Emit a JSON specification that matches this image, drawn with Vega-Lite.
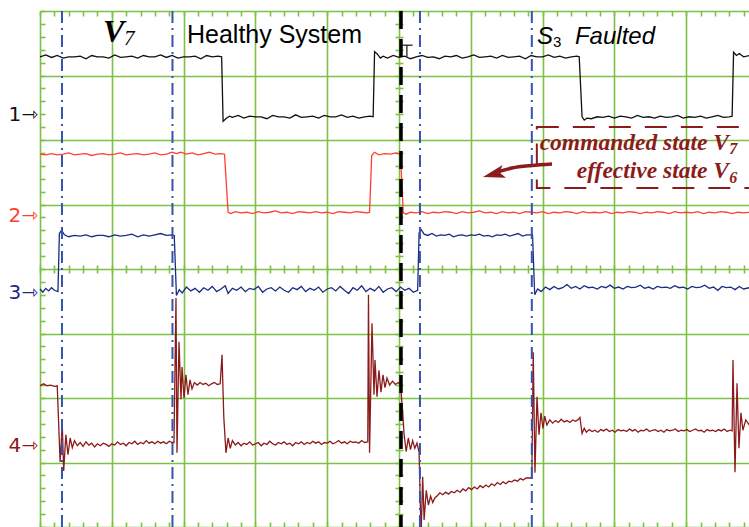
{
"$schema":"https://vega.github.io/schema/vega-lite/v6.json",
"width":709,"height":516,
"autosize":{"type":"none"},
"padding":{"left":40,"top":11,"right":0,"bottom":0},
"background":"white",
"config":{"view":{"stroke":null}},
"resolve":{"axis":{"x":"independent","y":"independent"}},
"datasets":{
"tr":[
{"s":"1","x":0,"y":3.29},{"s":"1","x":0.08,"y":3.32},{"s":"1","x":0.16,"y":3.28},{"s":"1","x":0.24,"y":3.31},{"s":"1","x":0.32,"y":3.27},{"s":"1","x":0.4,"y":3.29},{"s":"1","x":0.48,"y":3.29},{"s":"1","x":0.56,"y":3.3},{"s":"1","x":0.64,"y":3.26},{"s":"1","x":0.72,"y":3.31},{"s":"1","x":0.8,"y":3.29},{"s":"1","x":0.88,"y":3.29},{"s":"1","x":0.96,"y":3.27},{"s":"1","x":1.04,"y":3.32},{"s":"1","x":1.12,"y":3.28},{"s":"1","x":1.2,"y":3.29},{"s":"1","x":1.28,"y":3.3},{"s":"1","x":1.36,"y":3.27},{"s":"1","x":1.44,"y":3.31},{"s":"1","x":1.52,"y":3.29},{"s":"1","x":1.6,"y":3.29},{"s":"1","x":1.68,"y":3.32},{"s":"1","x":1.76,"y":3.28},{"s":"1","x":1.84,"y":3.31},{"s":"1","x":1.92,"y":3.27},{"s":"1","x":2,"y":3.29},{"s":"1","x":2.08,"y":3.29},{"s":"1","x":2.16,"y":3.3},{"s":"1","x":2.24,"y":3.26},{"s":"1","x":2.32,"y":3.31},{"s":"1","x":2.4,"y":3.29},{"s":"1","x":2.48,"y":3.3},{"s":"1","x":2.53,"y":3.29},{"s":"1","x":2.55,"y":2.29},{"s":"1","x":2.6,"y":2.34},{"s":"1","x":2.64,"y":2.37},{"s":"1","x":2.68,"y":2.35},{"s":"1","x":2.76,"y":2.38},{"s":"1","x":2.84,"y":2.34},{"s":"1","x":2.92,"y":2.37},{"s":"1","x":3,"y":2.36},{"s":"1","x":3.08,"y":2.36},{"s":"1","x":3.16,"y":2.33},{"s":"1","x":3.24,"y":2.38},{"s":"1","x":3.32,"y":2.36},{"s":"1","x":3.4,"y":2.36},{"s":"1","x":3.48,"y":2.34},{"s":"1","x":3.56,"y":2.39},{"s":"1","x":3.64,"y":2.35},{"s":"1","x":3.72,"y":2.36},{"s":"1","x":3.8,"y":2.37},{"s":"1","x":3.88,"y":2.34},{"s":"1","x":3.96,"y":2.38},{"s":"1","x":4.04,"y":2.36},{"s":"1","x":4.12,"y":2.36},{"s":"1","x":4.2,"y":2.39},{"s":"1","x":4.28,"y":2.35},{"s":"1","x":4.36,"y":2.37},{"s":"1","x":4.44,"y":2.34},{"s":"1","x":4.52,"y":2.36},{"s":"1","x":4.6,"y":2.37},{"s":"1","x":4.64,"y":2.36},{"s":"1","x":4.66,"y":3.37},{"s":"1","x":4.7,"y":3.33},{"s":"1","x":4.74,"y":3.27},{"s":"1","x":4.78,"y":3.3},{"s":"1","x":4.84,"y":3.27},{"s":"1","x":4.92,"y":3.31},{"s":"1","x":5,"y":3.28},{"s":"1","x":5.08,"y":3.3},{"s":"1","x":5.16,"y":3.26},{"s":"1","x":5.24,"y":3.29},{"s":"1","x":5.32,"y":3.31},{"s":"1","x":5.4,"y":3.28},{"s":"1","x":5.48,"y":3.29},{"s":"1","x":5.56,"y":3.26},{"s":"1","x":5.64,"y":3.3},{"s":"1","x":5.72,"y":3.29},{"s":"1","x":5.8,"y":3.31},{"s":"1","x":5.88,"y":3.27},{"s":"1","x":5.96,"y":3.29},{"s":"1","x":6.04,"y":3.32},{"s":"1","x":6.12,"y":3.28},{"s":"1","x":6.2,"y":3.29},{"s":"1","x":6.28,"y":3.3},{"s":"1","x":6.36,"y":3.27},{"s":"1","x":6.44,"y":3.31},{"s":"1","x":6.52,"y":3.28},{"s":"1","x":6.6,"y":3.29},{"s":"1","x":6.68,"y":3.3},{"s":"1","x":6.76,"y":3.26},{"s":"1","x":6.84,"y":3.31},{"s":"1","x":6.92,"y":3.29},{"s":"1","x":7,"y":3.29},{"s":"1","x":7.08,"y":3.32},{"s":"1","x":7.16,"y":3.28},{"s":"1","x":7.24,"y":3.3},{"s":"1","x":7.32,"y":3.27},{"s":"1","x":7.4,"y":3.29},{"s":"1","x":7.48,"y":3.3},{"s":"1","x":7.51,"y":3.29},{"s":"1","x":7.55,"y":2.36},{"s":"1","x":7.58,"y":2.31},{"s":"1","x":7.62,"y":2.34},{"s":"1","x":7.68,"y":2.33},{"s":"1","x":7.76,"y":2.36},{"s":"1","x":7.84,"y":2.35},{"s":"1","x":7.92,"y":2.37},{"s":"1","x":8,"y":2.34},{"s":"1","x":8.08,"y":2.37},{"s":"1","x":8.16,"y":2.36},{"s":"1","x":8.24,"y":2.34},{"s":"1","x":8.32,"y":2.38},{"s":"1","x":8.4,"y":2.35},{"s":"1","x":8.48,"y":2.36},{"s":"1","x":8.56,"y":2.34},{"s":"1","x":8.64,"y":2.37},{"s":"1","x":8.72,"y":2.35},{"s":"1","x":8.8,"y":2.36},{"s":"1","x":8.88,"y":2.38},{"s":"1","x":8.96,"y":2.34},{"s":"1","x":9.04,"y":2.36},{"s":"1","x":9.12,"y":2.35},{"s":"1","x":9.2,"y":2.37},{"s":"1","x":9.28,"y":2.34},{"s":"1","x":9.36,"y":2.36},{"s":"1","x":9.44,"y":2.38},{"s":"1","x":9.52,"y":2.35},{"s":"1","x":9.6,"y":2.36},{"s":"1","x":9.64,"y":2.37},{"s":"1","x":9.66,"y":3.36},{"s":"1","x":9.7,"y":3.31},{"s":"1","x":9.74,"y":3.34},{"s":"1","x":9.8,"y":3.29},{"s":"1","x":9.88,"y":3.31},
{"s":"2","x":0,"y":1.78},{"s":"2","x":0.08,"y":1.77},{"s":"2","x":0.16,"y":1.79},{"s":"2","x":0.24,"y":1.77},{"s":"2","x":0.32,"y":1.78},{"s":"2","x":0.4,"y":1.8},{"s":"2","x":0.48,"y":1.77},{"s":"2","x":0.56,"y":1.78},{"s":"2","x":0.64,"y":1.79},{"s":"2","x":0.72,"y":1.76},{"s":"2","x":0.8,"y":1.78},{"s":"2","x":0.88,"y":1.79},{"s":"2","x":0.96,"y":1.77},{"s":"2","x":1.04,"y":1.78},{"s":"2","x":1.12,"y":1.8},{"s":"2","x":1.2,"y":1.77},{"s":"2","x":1.28,"y":1.78},{"s":"2","x":1.36,"y":1.79},{"s":"2","x":1.44,"y":1.77},{"s":"2","x":1.52,"y":1.78},{"s":"2","x":1.6,"y":1.8},{"s":"2","x":1.68,"y":1.77},{"s":"2","x":1.76,"y":1.78},{"s":"2","x":1.84,"y":1.81},{"s":"2","x":1.9,"y":1.79},{"s":"2","x":1.96,"y":1.81},{"s":"2","x":2.04,"y":1.78},{"s":"2","x":2.12,"y":1.8},{"s":"2","x":2.2,"y":1.77},{"s":"2","x":2.28,"y":1.79},{"s":"2","x":2.36,"y":1.81},{"s":"2","x":2.44,"y":1.78},{"s":"2","x":2.52,"y":1.79},{"s":"2","x":2.57,"y":1.78},{"s":"2","x":2.62,"y":0.88},{"s":"2","x":2.66,"y":0.86},{"s":"2","x":2.72,"y":0.89},{"s":"2","x":2.8,"y":0.87},{"s":"2","x":2.88,"y":0.88},{"s":"2","x":2.96,"y":0.86},{"s":"2","x":3.04,"y":0.89},{"s":"2","x":3.12,"y":0.87},{"s":"2","x":3.2,"y":0.88},{"s":"2","x":3.28,"y":0.9},{"s":"2","x":3.36,"y":0.87},{"s":"2","x":3.44,"y":0.88},{"s":"2","x":3.52,"y":0.86},{"s":"2","x":3.6,"y":0.89},{"s":"2","x":3.68,"y":0.88},{"s":"2","x":3.76,"y":0.87},{"s":"2","x":3.84,"y":0.89},{"s":"2","x":3.92,"y":0.87},{"s":"2","x":4,"y":0.88},{"s":"2","x":4.08,"y":0.86},{"s":"2","x":4.16,"y":0.89},{"s":"2","x":4.24,"y":0.88},{"s":"2","x":4.32,"y":0.87},{"s":"2","x":4.4,"y":0.89},{"s":"2","x":4.48,"y":0.88},{"s":"2","x":4.56,"y":0.87},{"s":"2","x":4.59,"y":0.88},{"s":"2","x":4.62,"y":1.76},{"s":"2","x":4.66,"y":1.81},{"s":"2","x":4.72,"y":1.77},{"s":"2","x":4.8,"y":1.79},{"s":"2","x":4.88,"y":1.78},{"s":"2","x":4.96,"y":1.8},{"s":"2","x":5.02,"y":1.78},{"s":"2","x":5.06,"y":0.87},{"s":"2","x":5.1,"y":0.85},{"s":"2","x":5.16,"y":0.88},{"s":"2","x":5.24,"y":0.87},{"s":"2","x":5.32,"y":0.89},{"s":"2","x":5.4,"y":0.86},{"s":"2","x":5.48,"y":0.88},{"s":"2","x":5.56,"y":0.87},{"s":"2","x":5.64,"y":0.89},{"s":"2","x":5.72,"y":0.88},{"s":"2","x":5.8,"y":0.86},{"s":"2","x":5.88,"y":0.89},{"s":"2","x":5.96,"y":0.87},{"s":"2","x":6.04,"y":0.88},{"s":"2","x":6.12,"y":0.9},{"s":"2","x":6.2,"y":0.87},{"s":"2","x":6.28,"y":0.88},{"s":"2","x":6.36,"y":0.86},{"s":"2","x":6.44,"y":0.89},{"s":"2","x":6.52,"y":0.87},{"s":"2","x":6.6,"y":0.88},{"s":"2","x":6.68,"y":0.86},{"s":"2","x":6.76,"y":0.89},{"s":"2","x":6.84,"y":0.88},{"s":"2","x":6.92,"y":0.87},{"s":"2","x":7,"y":0.89},{"s":"2","x":7.08,"y":0.86},{"s":"2","x":7.16,"y":0.88},{"s":"2","x":7.24,"y":0.87},{"s":"2","x":7.32,"y":0.89},{"s":"2","x":7.4,"y":0.88},{"s":"2","x":7.48,"y":0.86},{"s":"2","x":7.56,"y":0.89},{"s":"2","x":7.64,"y":0.87},{"s":"2","x":7.72,"y":0.88},{"s":"2","x":7.8,"y":0.87},{"s":"2","x":7.88,"y":0.89},{"s":"2","x":7.96,"y":0.86},{"s":"2","x":8.04,"y":0.88},{"s":"2","x":8.12,"y":0.87},{"s":"2","x":8.2,"y":0.89},{"s":"2","x":8.28,"y":0.88},{"s":"2","x":8.36,"y":0.86},{"s":"2","x":8.44,"y":0.88},{"s":"2","x":8.52,"y":0.87},{"s":"2","x":8.6,"y":0.89},{"s":"2","x":8.68,"y":0.88},{"s":"2","x":8.76,"y":0.86},{"s":"2","x":8.84,"y":0.89},{"s":"2","x":8.92,"y":0.87},{"s":"2","x":9,"y":0.88},{"s":"2","x":9.08,"y":0.87},{"s":"2","x":9.16,"y":0.89},{"s":"2","x":9.24,"y":0.86},{"s":"2","x":9.32,"y":0.88},{"s":"2","x":9.4,"y":0.87},{"s":"2","x":9.48,"y":0.89},{"s":"2","x":9.56,"y":0.88},{"s":"2","x":9.64,"y":0.86},{"s":"2","x":9.72,"y":0.88},{"s":"2","x":9.8,"y":0.87},{"s":"2","x":9.88,"y":0.88},
{"s":"3","x":0,"y":-0.31},{"s":"3","x":0.04,"y":-0.36},{"s":"3","x":0.08,"y":-0.3},{"s":"3","x":0.12,"y":-0.34},{"s":"3","x":0.16,"y":-0.29},{"s":"3","x":0.2,"y":-0.33},{"s":"3","x":0.25,"y":-0.35},{"s":"3","x":0.27,"y":0.55},{"s":"3","x":0.3,"y":0.6},{"s":"3","x":0.34,"y":0.53},{"s":"3","x":0.4,"y":0.5},{"s":"3","x":0.48,"y":0.52},{"s":"3","x":0.56,"y":0.51},{"s":"3","x":0.64,"y":0.53},{"s":"3","x":0.72,"y":0.5},{"s":"3","x":0.8,"y":0.52},{"s":"3","x":0.88,"y":0.52},{"s":"3","x":0.96,"y":0.5},{"s":"3","x":1.04,"y":0.53},{"s":"3","x":1.12,"y":0.51},{"s":"3","x":1.2,"y":0.52},{"s":"3","x":1.28,"y":0.54},{"s":"3","x":1.36,"y":0.5},{"s":"3","x":1.44,"y":0.53},{"s":"3","x":1.52,"y":0.51},{"s":"3","x":1.6,"y":0.53},{"s":"3","x":1.68,"y":0.55},{"s":"3","x":1.76,"y":0.52},{"s":"3","x":1.84,"y":0.53},{"s":"3","x":1.87,"y":0.52},{"s":"3","x":1.9,"y":-0.41},{"s":"3","x":1.94,"y":-0.32},{"s":"3","x":1.98,"y":-0.37},{"s":"3","x":2.04,"y":-0.28},{"s":"3","x":2.1,"y":-0.34},{"s":"3","x":2.16,"y":-0.3},{"s":"3","x":2.22,"y":-0.36},{"s":"3","x":2.28,"y":-0.29},{"s":"3","x":2.34,"y":-0.33},{"s":"3","x":2.4,"y":-0.27},{"s":"3","x":2.46,"y":-0.35},{"s":"3","x":2.52,"y":-0.31},{"s":"3","x":2.58,"y":-0.26},{"s":"3","x":2.62,"y":-0.38},{"s":"3","x":2.68,"y":-0.3},{"s":"3","x":2.74,"y":-0.33},{"s":"3","x":2.8,"y":-0.28},{"s":"3","x":2.86,"y":-0.35},{"s":"3","x":2.92,"y":-0.3},{"s":"3","x":2.98,"y":-0.32},{"s":"3","x":3.04,"y":-0.27},{"s":"3","x":3.1,"y":-0.36},{"s":"3","x":3.16,"y":-0.31},{"s":"3","x":3.22,"y":-0.29},{"s":"3","x":3.28,"y":-0.34},{"s":"3","x":3.34,"y":-0.28},{"s":"3","x":3.4,"y":-0.33},{"s":"3","x":3.46,"y":-0.36},{"s":"3","x":3.52,"y":-0.29},{"s":"3","x":3.58,"y":-0.32},{"s":"3","x":3.64,"y":-0.27},{"s":"3","x":3.7,"y":-0.35},{"s":"3","x":3.76,"y":-0.3},{"s":"3","x":3.82,"y":-0.33},{"s":"3","x":3.88,"y":-0.28},{"s":"3","x":3.94,"y":-0.36},{"s":"3","x":4,"y":-0.31},{"s":"3","x":4.06,"y":-0.29},{"s":"3","x":4.12,"y":-0.34},{"s":"3","x":4.18,"y":-0.27},{"s":"3","x":4.24,"y":-0.33},{"s":"3","x":4.3,"y":-0.38},{"s":"3","x":4.36,"y":-0.29},{"s":"3","x":4.42,"y":-0.33},{"s":"3","x":4.48,"y":-0.26},{"s":"3","x":4.54,"y":-0.35},{"s":"3","x":4.6,"y":-0.3},{"s":"3","x":4.66,"y":-0.34},{"s":"3","x":4.72,"y":-0.27},{"s":"3","x":4.78,"y":-0.36},{"s":"3","x":4.84,"y":-0.31},{"s":"3","x":4.9,"y":-0.29},{"s":"3","x":4.96,"y":-0.35},{"s":"3","x":5.02,"y":-0.28},{"s":"3","x":5.08,"y":-0.33},{"s":"3","x":5.14,"y":-0.3},{"s":"3","x":5.2,"y":-0.36},{"s":"3","x":5.26,"y":-0.33},{"s":"3","x":5.28,"y":0.56},{"s":"3","x":5.31,"y":0.61},{"s":"3","x":5.35,"y":0.54},{"s":"3","x":5.4,"y":0.52},{"s":"3","x":5.46,"y":0.55},{"s":"3","x":5.52,"y":0.51},{"s":"3","x":5.58,"y":0.53},{"s":"3","x":5.64,"y":0.52},{"s":"3","x":5.7,"y":0.54},{"s":"3","x":5.76,"y":0.5},{"s":"3","x":5.82,"y":0.52},{"s":"3","x":5.88,"y":0.53},{"s":"3","x":5.94,"y":0.51},{"s":"3","x":6,"y":0.53},{"s":"3","x":6.06,"y":0.52},{"s":"3","x":6.12,"y":0.54},{"s":"3","x":6.18,"y":0.51},{"s":"3","x":6.24,"y":0.52},{"s":"3","x":6.3,"y":0.5},{"s":"3","x":6.36,"y":0.53},{"s":"3","x":6.42,"y":0.52},{"s":"3","x":6.48,"y":0.54},{"s":"3","x":6.54,"y":0.51},{"s":"3","x":6.6,"y":0.53},{"s":"3","x":6.66,"y":0.55},{"s":"3","x":6.72,"y":0.51},{"s":"3","x":6.78,"y":0.53},{"s":"3","x":6.86,"y":0.53},{"s":"3","x":6.89,"y":-0.4},{"s":"3","x":6.93,"y":-0.31},{"s":"3","x":6.98,"y":-0.35},{"s":"3","x":7.04,"y":-0.28},{"s":"3","x":7.1,"y":-0.32},{"s":"3","x":7.16,"y":-0.27},{"s":"3","x":7.22,"y":-0.31},{"s":"3","x":7.28,"y":-0.29},{"s":"3","x":7.34,"y":-0.24},{"s":"3","x":7.4,"y":-0.3},{"s":"3","x":7.46,"y":-0.27},{"s":"3","x":7.52,"y":-0.31},{"s":"3","x":7.58,"y":-0.26},{"s":"3","x":7.64,"y":-0.29},{"s":"3","x":7.7,"y":-0.28},{"s":"3","x":7.76,"y":-0.31},{"s":"3","x":7.82,"y":-0.27},{"s":"3","x":7.88,"y":-0.29},{"s":"3","x":7.94,"y":-0.25},{"s":"3","x":8,"y":-0.3},{"s":"3","x":8.06,"y":-0.28},{"s":"3","x":8.12,"y":-0.31},{"s":"3","x":8.18,"y":-0.27},{"s":"3","x":8.24,"y":-0.29},{"s":"3","x":8.3,"y":-0.28},{"s":"3","x":8.36,"y":-0.25},{"s":"3","x":8.42,"y":-0.3},{"s":"3","x":8.48,"y":-0.28},{"s":"3","x":8.54,"y":-0.31},{"s":"3","x":8.6,"y":-0.27},{"s":"3","x":8.66,"y":-0.29},{"s":"3","x":8.72,"y":-0.28},{"s":"3","x":8.78,"y":-0.3},{"s":"3","x":8.84,"y":-0.26},{"s":"3","x":8.9,"y":-0.29},{"s":"3","x":8.96,"y":-0.28},{"s":"3","x":9.02,"y":-0.31},{"s":"3","x":9.08,"y":-0.27},{"s":"3","x":9.14,"y":-0.29},{"s":"3","x":9.2,"y":-0.28},{"s":"3","x":9.26,"y":-0.25},{"s":"3","x":9.32,"y":-0.3},{"s":"3","x":9.38,"y":-0.28},{"s":"3","x":9.44,"y":-0.33},{"s":"3","x":9.5,"y":-0.27},{"s":"3","x":9.56,"y":-0.29},{"s":"3","x":9.62,"y":-0.28},{"s":"3","x":9.68,"y":-0.32},{"s":"3","x":9.74,"y":-0.27},{"s":"3","x":9.8,"y":-0.31},{"s":"3","x":9.88,"y":-0.29},
{"s":"4","x":0,"y":-1.81},{"s":"4","x":0.05,"y":-1.78},{"s":"4","x":0.1,"y":-1.81},{"s":"4","x":0.15,"y":-1.8},{"s":"4","x":0.2,"y":-1.82},{"s":"4","x":0.24,"y":-1.81},{"s":"4","x":0.28,"y":-2.99},{"s":"4","x":0.31,"y":-2.41},{"s":"4","x":0.33,"y":-3.13},{"s":"4","x":0.36,"y":-2.57},{"s":"4","x":0.39,"y":-2.88},{"s":"4","x":0.42,"y":-2.62},{"s":"4","x":0.45,"y":-2.77},{"s":"4","x":0.48,"y":-2.66},{"s":"4","x":0.52,"y":-2.74},{"s":"4","x":0.56,"y":-2.69},{"s":"4","x":0.6,"y":-2.75},{"s":"4","x":0.64,"y":-2.68},{"s":"4","x":0.68,"y":-2.73},{"s":"4","x":0.72,"y":-2.7},{"s":"4","x":0.76,"y":-2.76},{"s":"4","x":0.8,"y":-2.71},{"s":"4","x":0.84,"y":-2.74},{"s":"4","x":0.88,"y":-2.7},{"s":"4","x":0.92,"y":-2.72},{"s":"4","x":0.96,"y":-2.75},{"s":"4","x":1,"y":-2.71},{"s":"4","x":1.04,"y":-2.73},{"s":"4","x":1.08,"y":-2.68},{"s":"4","x":1.12,"y":-2.72},{"s":"4","x":1.16,"y":-2.7},{"s":"4","x":1.2,"y":-2.74},{"s":"4","x":1.24,"y":-2.69},{"s":"4","x":1.28,"y":-2.71},{"s":"4","x":1.32,"y":-2.67},{"s":"4","x":1.36,"y":-2.72},{"s":"4","x":1.4,"y":-2.69},{"s":"4","x":1.44,"y":-2.71},{"s":"4","x":1.48,"y":-2.66},{"s":"4","x":1.52,"y":-2.7},{"s":"4","x":1.56,"y":-2.68},{"s":"4","x":1.6,"y":-2.71},{"s":"4","x":1.64,"y":-2.67},{"s":"4","x":1.68,"y":-2.7},{"s":"4","x":1.72,"y":-2.68},{"s":"4","x":1.76,"y":-2.71},{"s":"4","x":1.8,"y":-2.67},{"s":"4","x":1.84,"y":-2.69},{"s":"4","x":1.866,"y":-2.69},{"s":"4","x":1.894,"y":-0.45},{"s":"4","x":1.908,"y":-2.85},{"s":"4","x":1.936,"y":-1.13},{"s":"4","x":1.964,"y":-2.02},{"s":"4","x":1.978,"y":-1.52},{"s":"4","x":2.006,"y":-2},{"s":"4","x":2.033,"y":-1.64},{"s":"4","x":2.061,"y":-1.95},{"s":"4","x":2.09,"y":-1.72},{"s":"4","x":2.117,"y":-1.86},{"s":"4","x":2.15,"y":-1.76},{"s":"4","x":2.19,"y":-1.8},{"s":"4","x":2.23,"y":-1.76},{"s":"4","x":2.27,"y":-1.79},{"s":"4","x":2.31,"y":-1.77},{"s":"4","x":2.35,"y":-1.81},{"s":"4","x":2.39,"y":-1.78},{"s":"4","x":2.43,"y":-1.76},{"s":"4","x":2.47,"y":-1.79},{"s":"4","x":2.51,"y":-1.78},{"s":"4","x":2.535,"y":-1.33},{"s":"4","x":2.56,"y":-2.3},{"s":"4","x":2.59,"y":-2.85},{"s":"4","x":2.62,"y":-2.62},{"s":"4","x":2.65,"y":-2.78},{"s":"4","x":2.68,"y":-2.66},{"s":"4","x":2.72,"y":-2.73},{"s":"4","x":2.76,"y":-2.69},{"s":"4","x":2.8,"y":-2.74},{"s":"4","x":2.84,"y":-2.7},{"s":"4","x":2.88,"y":-2.72},{"s":"4","x":2.92,"y":-2.68},{"s":"4","x":2.96,"y":-2.73},{"s":"4","x":3,"y":-2.71},{"s":"4","x":3.04,"y":-2.69},{"s":"4","x":3.08,"y":-2.74},{"s":"4","x":3.12,"y":-2.7},{"s":"4","x":3.16,"y":-2.72},{"s":"4","x":3.2,"y":-2.67},{"s":"4","x":3.24,"y":-2.71},{"s":"4","x":3.28,"y":-2.73},{"s":"4","x":3.32,"y":-2.69},{"s":"4","x":3.36,"y":-2.71},{"s":"4","x":3.4,"y":-2.68},{"s":"4","x":3.44,"y":-2.72},{"s":"4","x":3.48,"y":-2.7},{"s":"4","x":3.52,"y":-2.74},{"s":"4","x":3.56,"y":-2.69},{"s":"4","x":3.6,"y":-2.71},{"s":"4","x":3.64,"y":-2.68},{"s":"4","x":3.68,"y":-2.72},{"s":"4","x":3.72,"y":-2.69},{"s":"4","x":3.76,"y":-2.71},{"s":"4","x":3.8,"y":-2.67},{"s":"4","x":3.84,"y":-2.7},{"s":"4","x":3.88,"y":-2.68},{"s":"4","x":3.92,"y":-2.72},{"s":"4","x":3.96,"y":-2.69},{"s":"4","x":4,"y":-2.7},{"s":"4","x":4.04,"y":-2.67},{"s":"4","x":4.08,"y":-2.71},{"s":"4","x":4.12,"y":-2.69},{"s":"4","x":4.16,"y":-2.66},{"s":"4","x":4.2,"y":-2.7},{"s":"4","x":4.24,"y":-2.68},{"s":"4","x":4.28,"y":-2.71},{"s":"4","x":4.32,"y":-2.67},{"s":"4","x":4.36,"y":-2.69},{"s":"4","x":4.4,"y":-2.68},{"s":"4","x":4.44,"y":-2.7},{"s":"4","x":4.48,"y":-2.66},{"s":"4","x":4.52,"y":-2.69},{"s":"4","x":4.56,"y":-2.68},{"s":"4","x":4.565,"y":-2.68},{"s":"4","x":4.575,"y":-0.4},{"s":"4","x":4.59,"y":-2.85},{"s":"4","x":4.624,"y":-0.84},{"s":"4","x":4.652,"y":-1.95},{"s":"4","x":4.666,"y":-1.41},{"s":"4","x":4.694,"y":-1.98},{"s":"4","x":4.721,"y":-1.57},{"s":"4","x":4.749,"y":-1.91},{"s":"4","x":4.777,"y":-1.64},{"s":"4","x":4.805,"y":-1.84},{"s":"4","x":4.833,"y":-1.69},{"s":"4","x":4.87,"y":-1.8},{"s":"4","x":4.91,"y":-1.74},{"s":"4","x":4.95,"y":-1.79},{"s":"4","x":4.99,"y":-1.76},{"s":"4","x":5.02,"y":-1.79},{"s":"4","x":5.05,"y":-2.2},{"s":"4","x":5.07,"y":-2.55},{"s":"4","x":5.1,"y":-2.83},{"s":"4","x":5.13,"y":-2.62},{"s":"4","x":5.16,"y":-2.8},{"s":"4","x":5.19,"y":-2.66},{"s":"4","x":5.22,"y":-2.78},{"s":"4","x":5.25,"y":-2.7},{"s":"4","x":5.28,"y":-2.84},{"s":"4","x":5.3,"y":-3.78},{"s":"4","x":5.31,"y":-4.05},{"s":"4","x":5.33,"y":-3.22},{"s":"4","x":5.35,"y":-3.89},{"s":"4","x":5.38,"y":-3.43},{"s":"4","x":5.41,"y":-3.66},{"s":"4","x":5.44,"y":-3.52},{"s":"4","x":5.47,"y":-3.62},{"s":"4","x":5.5,"y":-3.55},{"s":"4","x":5.53,"y":-3.52},{"s":"4","x":5.57,"y":-3.47},{"s":"4","x":5.61,"y":-3.5},{"s":"4","x":5.65,"y":-3.46},{"s":"4","x":5.69,"y":-3.49},{"s":"4","x":5.73,"y":-3.45},{"s":"4","x":5.77,"y":-3.47},{"s":"4","x":5.81,"y":-3.43},{"s":"4","x":5.85,"y":-3.46},{"s":"4","x":5.89,"y":-3.41},{"s":"4","x":5.93,"y":-3.44},{"s":"4","x":5.97,"y":-3.39},{"s":"4","x":6.01,"y":-3.42},{"s":"4","x":6.05,"y":-3.38},{"s":"4","x":6.09,"y":-3.41},{"s":"4","x":6.13,"y":-3.36},{"s":"4","x":6.17,"y":-3.39},{"s":"4","x":6.21,"y":-3.35},{"s":"4","x":6.25,"y":-3.38},{"s":"4","x":6.29,"y":-3.33},{"s":"4","x":6.33,"y":-3.36},{"s":"4","x":6.37,"y":-3.31},{"s":"4","x":6.41,"y":-3.34},{"s":"4","x":6.45,"y":-3.3},{"s":"4","x":6.49,"y":-3.33},{"s":"4","x":6.53,"y":-3.29},{"s":"4","x":6.57,"y":-3.3},{"s":"4","x":6.61,"y":-3.27},{"s":"4","x":6.65,"y":-3.29},{"s":"4","x":6.69,"y":-3.25},{"s":"4","x":6.73,"y":-3.27},{"s":"4","x":6.77,"y":-3.24},{"s":"4","x":6.82,"y":-3.24},{"s":"4","x":6.85,"y":-3.24},{"s":"4","x":6.87,"y":-1.29},{"s":"4","x":6.894,"y":-3.16},{"s":"4","x":6.922,"y":-1.98},{"s":"4","x":6.95,"y":-2.57},{"s":"4","x":6.978,"y":-2.23},{"s":"4","x":7.006,"y":-2.47},{"s":"4","x":7.03,"y":-2.28},{"s":"4","x":7.06,"y":-2.42},{"s":"4","x":7.1,"y":-2.34},{"s":"4","x":7.14,"y":-2.39},{"s":"4","x":7.18,"y":-2.35},{"s":"4","x":7.22,"y":-2.38},{"s":"4","x":7.26,"y":-2.33},{"s":"4","x":7.3,"y":-2.37},{"s":"4","x":7.34,"y":-2.35},{"s":"4","x":7.38,"y":-2.38},{"s":"4","x":7.42,"y":-2.34},{"s":"4","x":7.46,"y":-2.36},{"s":"4","x":7.5,"y":-2.33},{"s":"4","x":7.52,"y":-2.3},{"s":"4","x":7.55,"y":-2.55},{"s":"4","x":7.58,"y":-2.47},{"s":"4","x":7.61,"y":-2.53},{"s":"4","x":7.65,"y":-2.49},{"s":"4","x":7.69,"y":-2.52},{"s":"4","x":7.73,"y":-2.5},{"s":"4","x":7.77,"y":-2.53},{"s":"4","x":7.81,"y":-2.49},{"s":"4","x":7.85,"y":-2.51},{"s":"4","x":7.89,"y":-2.48},{"s":"4","x":7.93,"y":-2.52},{"s":"4","x":7.97,"y":-2.5},{"s":"4","x":8.01,"y":-2.53},{"s":"4","x":8.05,"y":-2.49},{"s":"4","x":8.09,"y":-2.51},{"s":"4","x":8.13,"y":-2.5},{"s":"4","x":8.17,"y":-2.52},{"s":"4","x":8.21,"y":-2.48},{"s":"4","x":8.25,"y":-2.51},{"s":"4","x":8.29,"y":-2.49},{"s":"4","x":8.33,"y":-2.53},{"s":"4","x":8.37,"y":-2.5},{"s":"4","x":8.41,"y":-2.51},{"s":"4","x":8.45,"y":-2.48},{"s":"4","x":8.49,"y":-2.52},{"s":"4","x":8.53,"y":-2.5},{"s":"4","x":8.57,"y":-2.49},{"s":"4","x":8.61,"y":-2.52},{"s":"4","x":8.65,"y":-2.5},{"s":"4","x":8.69,"y":-2.53},{"s":"4","x":8.73,"y":-2.49},{"s":"4","x":8.77,"y":-2.51},{"s":"4","x":8.81,"y":-2.5},{"s":"4","x":8.85,"y":-2.48},{"s":"4","x":8.89,"y":-2.52},{"s":"4","x":8.93,"y":-2.5},{"s":"4","x":8.97,"y":-2.51},{"s":"4","x":9.01,"y":-2.49},{"s":"4","x":9.05,"y":-2.52},{"s":"4","x":9.09,"y":-2.5},{"s":"4","x":9.13,"y":-2.48},{"s":"4","x":9.17,"y":-2.51},{"s":"4","x":9.21,"y":-2.5},{"s":"4","x":9.25,"y":-2.53},{"s":"4","x":9.29,"y":-2.49},{"s":"4","x":9.33,"y":-2.51},{"s":"4","x":9.37,"y":-2.5},{"s":"4","x":9.41,"y":-2.52},{"s":"4","x":9.45,"y":-2.49},{"s":"4","x":9.49,"y":-2.51},{"s":"4","x":9.53,"y":-2.48},{"s":"4","x":9.57,"y":-2.52},{"s":"4","x":9.61,"y":-2.5},{"s":"4","x":9.64,"y":-2.51},{"s":"4","x":9.652,"y":-1.41},{"s":"4","x":9.68,"y":-3.15},{"s":"4","x":9.708,"y":-1.77},{"s":"4","x":9.735,"y":-2.78},{"s":"4","x":9.763,"y":-2.23},{"s":"4","x":9.79,"y":-2.5},{"s":"4","x":9.83,"y":-2.34},{"s":"4","x":9.88,"y":-2.42}
]},
"layer":[
{"data":{"name":"tr"},"mark":{"type":"line","strokeWidth":1.3},
 "encoding":{
  "x":{"field":"x","type":"quantitative","scale":{"domain":[0,9.875],"nice":false,"zero":false},
   "axis":{"values":[0,1,2,3,4,5,6,7,8,9],"grid":true,"gridColor":"#7cc143","gridWidth":1.6,"gridOpacity":1,"domain":false,"ticks":false,"labels":false,"title":null}},
  "y":{"field":"y","type":"quantitative","scale":{"domain":[-4,4],"nice":false,"zero":false},
   "axis":{"values":[-4,-3,-2,-1,0,1,2,3,4],"grid":true,"gridColor":"#7cc143","gridWidth":1.6,"gridOpacity":1,"domain":false,"ticks":false,"labels":false,"title":null}},
  "color":{"field":"s","type":"nominal","scale":{"domain":["1","2","3","4"],"range":["#111111","#ff4030","#1c2b7f","#8b1a1a"]},"legend":null}}},
{"data":{"values":[{"x":0.306},{"x":1.845},{"x":5.292},{"x":6.85}]},
 "mark":{"type":"rule","color":"#3554b0","strokeWidth":2,"strokeDash":[12,5,2,5]},
 "encoding":{"x":{"field":"x","type":"quantitative","scale":{"domain":[0,9.875],"nice":false,"zero":false},"axis":null}}},
{"data":{"values":[{"x":5.028}]},
 "mark":{"type":"rule","color":"#000000","strokeWidth":3.5,"strokeDash":[18,10]},
 "encoding":{"x":{"field":"x","type":"quantitative","scale":{"domain":[0,9.875],"nice":false,"zero":false},"axis":null}}},
{"data":{"values":[{"x":5.03,"x2":5.19,"y":3.47,"y2":3.47},{"x":5.11,"x2":5.11,"y":3.47,"y2":3.29}]},
 "mark":{"type":"rule","color":"#111111","strokeWidth":1.2},
 "encoding":{
  "x":{"field":"x","type":"quantitative","scale":{"domain":[0,9.875],"nice":false,"zero":false},
   "axis":{"orient":"top","offset":-5,"values":[0,0.2,0.4,0.6,0.8,1,1.2,1.4,1.6,1.8,2,2.2,2.4,2.6,2.8,3,3.2,3.4,3.6,3.8,4,4.2,4.4,4.6,4.8,5,5.2,5.4,5.6,5.8,6,6.2,6.4,6.6,6.8,7,7.2,7.4,7.6,7.8,8,8.2,8.4,8.6,8.8,9,9.2,9.4,9.6,9.8],"tickSize":5,"tickColor":"#7cc143","tickWidth":1.6,"grid":false,"domain":false,"labels":false,"title":null}},
  "x2":{"field":"x2"},
  "y":{"field":"y","type":"quantitative","scale":{"domain":[-4,4],"nice":false,"zero":false},
   "axis":{"orient":"left","offset":-5,"values":[-4,-3.8,-3.6,-3.4,-3.2,-3,-2.8,-2.6,-2.4,-2.2,-2,-1.8,-1.6,-1.4,-1.2,-1,-0.8,-0.6,-0.4,-0.2,0,0.2,0.4,0.6,0.8,1,1.2,1.4,1.6,1.8,2,2.2,2.4,2.6,2.8,3,3.2,3.4,3.6,3.8,4],"tickSize":5,"tickColor":"#7cc143","tickWidth":1.6,"grid":false,"domain":false,"labels":false,"title":null}},
  "y2":{"field":"y2"}}},
{"data":{"values":[{"x":6.92,"x2":10.1,"y":2.2,"y2":1.256}]},
 "mark":{"type":"rect","filled":false,"stroke":"#8c1c1c","strokeWidth":2,"strokeDash":[22,14]},
 "encoding":{"x":{"field":"x","type":"quantitative","scale":{"domain":[0,9.875],"nice":false,"zero":false},"axis":null},"x2":{"field":"x2"},
  "y":{"field":"y","type":"quantitative","scale":{"domain":[-4,4],"nice":false,"zero":false},"axis":null},"y2":{"field":"y2"}}},
{"data":{"values":[{"x":7.131,"y":1.628},{"x":6.852,"y":1.605},{"x":6.574,"y":1.566},{"x":6.365,"y":1.504}]},
 "mark":{"type":"line","color":"#8c1c1c","strokeWidth":3.5,"interpolate":"monotone"},
 "encoding":{"x":{"field":"x","type":"quantitative","scale":{"domain":[0,9.875],"nice":false,"zero":false},"axis":null},
  "y":{"field":"y","type":"quantitative","scale":{"domain":[-4,4],"nice":false,"zero":false},"axis":null}}},
{"data":{"values":[{"x":6.318,"y":1.47}]},
 "mark":{"type":"point","shape":"M-1,0L1,-0.6L0.55,0L1,0.6Z","size":484,"angle":-15,"filled":true,"color":"#8c1c1c","opacity":1},
 "encoding":{"x":{"field":"x","type":"quantitative","scale":{"domain":[0,9.875],"nice":false,"zero":false},"axis":null},
  "y":{"field":"y","type":"quantitative","scale":{"domain":[-4,4],"nice":false,"zero":false},"axis":null}}},
{"data":{"values":[{"t":"V","x":0.877,"y":3.519}]},
 "mark":{"type":"text","font":"Liberation Serif","fontSize":32,"fontWeight":"bold","fontStyle":"italic","align":"left","baseline":"alphabetic","color":"#000000"},
 "encoding":{"text":{"field":"t"},
  "x":{"field":"x","type":"quantitative","scale":{"domain":[0,9.875],"nice":false,"zero":false},
   "axis":{"orient":"bottom","offset":-262,"values":[0,0.2,0.4,0.6,0.8,1,1.2,1.4,1.6,1.8,2,2.2,2.4,2.6,2.8,3,3.2,3.4,3.6,3.8,4,4.2,4.4,4.6,4.8,5,5.2,5.4,5.6,5.8,6,6.2,6.4,6.6,6.8,7,7.2,7.4,7.6,7.8,8,8.2,8.4,8.6,8.8,9,9.2,9.4,9.6,9.8],"tickSize":8,"tickColor":"#7cc143","tickWidth":1.6,"grid":false,"domain":false,"labels":false,"title":null}},
  "y":{"field":"y","type":"quantitative","scale":{"domain":[-4,4],"nice":false,"zero":false},
   "axis":{"orient":"left","offset":-363,"values":[-4,-3.8,-3.6,-3.4,-3.2,-3,-2.8,-2.6,-2.4,-2.2,-2,-1.8,-1.6,-1.4,-1.2,-1,-0.8,-0.6,-0.4,-0.2,0,0.2,0.4,0.6,0.8,1,1.2,1.4,1.6,1.8,2,2.2,2.4,2.6,2.8,3,3.2,3.4,3.6,3.8,4],"tickSize":8,"tickColor":"#7cc143","tickWidth":1.6,"grid":false,"domain":false,"labels":false,"title":null}}}},
{"data":{"values":[{"t":"7","x":1.17,"y":3.473}]},
 "mark":{"type":"text","font":"Liberation Serif","fontSize":21,"fontStyle":"italic","align":"left","baseline":"alphabetic","color":"#000000"},
 "encoding":{"text":{"field":"t"},
  "x":{"field":"x","type":"quantitative","scale":{"domain":[0,9.875],"nice":false,"zero":false},
   "axis":{"orient":"bottom","offset":-5,"values":[0,0.2,0.4,0.6,0.8,1,1.2,1.4,1.6,1.8,2,2.2,2.4,2.6,2.8,3,3.2,3.4,3.6,3.8,4,4.2,4.4,4.6,4.8,5,5.2,5.4,5.6,5.8,6,6.2,6.4,6.6,6.8,7,7.2,7.4,7.6,7.8,8,8.2,8.4,8.6,8.8,9,9.2,9.4,9.6,9.8],"tickSize":5,"tickColor":"#7cc143","tickWidth":1.6,"grid":false,"domain":false,"labels":false,"title":null}},
  "y":{"field":"y","type":"quantitative","scale":{"domain":[-4,4],"nice":false,"zero":false},"axis":null}}},
{"data":{"values":[{"t":"Healthy System","x":2.047,"y":3.504}]},
 "mark":{"type":"text","font":"Liberation Sans","fontSize":25,"align":"left","baseline":"alphabetic","color":"#000000"},
 "encoding":{"text":{"field":"t"},
  "x":{"field":"x","type":"quantitative","scale":{"domain":[0,9.875],"nice":false,"zero":false},"axis":null},
  "y":{"field":"y","type":"quantitative","scale":{"domain":[-4,4],"nice":false,"zero":false},"axis":null}}},
{"data":{"values":[{"t":"S","x":6.922,"y":3.488},{"t":"Faulted","x":7.451,"y":3.488}]},
 "mark":{"type":"text","font":"Liberation Sans","fontSize":24,"fontStyle":"italic","align":"left","baseline":"alphabetic","color":"#000000"},
 "encoding":{"text":{"field":"t"},
  "x":{"field":"x","type":"quantitative","scale":{"domain":[0,9.875],"nice":false,"zero":false},"axis":null},
  "y":{"field":"y","type":"quantitative","scale":{"domain":[-4,4],"nice":false,"zero":false},"axis":null}}},
{"data":{"values":[{"t":"3","x":7.145,"y":3.442}]},
 "mark":{"type":"text","font":"Liberation Sans","fontSize":15,"align":"left","baseline":"alphabetic","color":"#000000"},
 "encoding":{"text":{"field":"t"},
  "x":{"field":"x","type":"quantitative","scale":{"domain":[0,9.875],"nice":false,"zero":false},"axis":null},
  "y":{"field":"y","type":"quantitative","scale":{"domain":[-4,4],"nice":false,"zero":false},"axis":null}}},
{"data":{"values":[{"t":"commanded state V","x":9.596,"y":1.845},{"t":"effective state V","x":9.596,"y":1.411}]},
 "mark":{"type":"text","font":"Liberation Serif","fontSize":23.5,"fontWeight":"bold","fontStyle":"italic","align":"right","baseline":"alphabetic","color":"#8c1c1c"},
 "encoding":{"text":{"field":"t"},
  "x":{"field":"x","type":"quantitative","scale":{"domain":[0,9.875],"nice":false,"zero":false},"axis":null},
  "y":{"field":"y","type":"quantitative","scale":{"domain":[-4,4],"nice":false,"zero":false},"axis":null}}},
{"data":{"values":[{"t":"7","x":9.6,"y":1.783},{"t":"6","x":9.6,"y":1.333}]},
 "mark":{"type":"text","font":"Liberation Serif","fontSize":16,"fontWeight":"bold","fontStyle":"italic","align":"left","baseline":"alphabetic","color":"#8c1c1c"},
 "encoding":{"text":{"field":"t"},
  "x":{"field":"x","type":"quantitative","scale":{"domain":[0,9.875],"nice":false,"zero":false},"axis":null},
  "y":{"field":"y","type":"quantitative","scale":{"domain":[-4,4],"nice":false,"zero":false},"axis":null}}},
{"data":{"values":[{"t":"1⇾","s":"1","x":-0.028,"y":2.295},{"t":"2⇾","s":"2","x":-0.028,"y":0.729},{"t":"3⇾","s":"3","x":-0.028,"y":-0.465},{"t":"4⇾","s":"4","x":-0.028,"y":-2.837}]},
 "mark":{"type":"text","font":"DejaVu Sans","fontSize":20,"align":"right","baseline":"alphabetic"},
 "encoding":{"text":{"field":"t"},
  "x":{"field":"x","type":"quantitative","scale":{"domain":[0,9.875],"nice":false,"zero":false},"axis":null},
  "y":{"field":"y","type":"quantitative","scale":{"domain":[-4,4],"nice":false,"zero":false},"axis":null},
  "color":{"field":"s","type":"nominal","scale":{"domain":["1","2","3","4"],"range":["#444444","#ff5a4a","#2b3990","#8b2323"]},"legend":null}}}
]
}
